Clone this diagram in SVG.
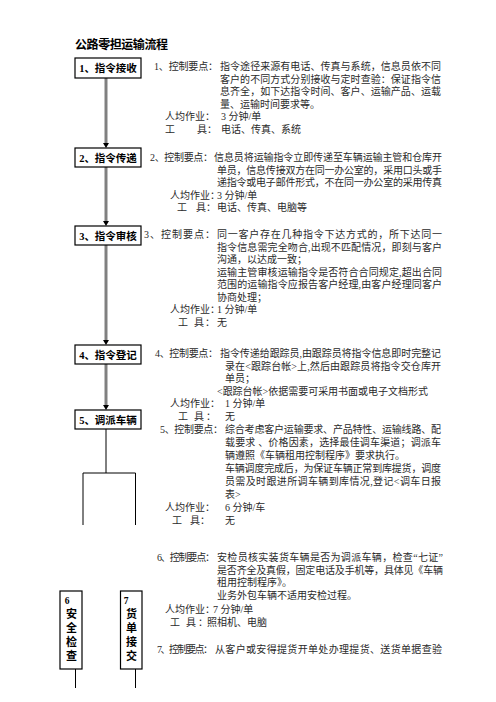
<svg xmlns="http://www.w3.org/2000/svg" width="496" height="702" viewBox="0 0 496 702">
<style>
.t{font-family:"Liberation Serif","Noto Sans CJK SC",serif;font-size:10px;fill:#2a2a2a}
.b{font-family:"Liberation Serif","Noto Sans CJK SC",serif;font-size:10.5px;font-weight:bold;fill:#000;text-anchor:middle}
.v{font-family:"Liberation Serif","Noto Sans CJK SC",serif;font-size:11px;font-weight:bold;fill:#000;text-anchor:middle}
.box{fill:#fff;stroke:#000;stroke-width:1.2}
.g{stroke:#808080;stroke-width:3;fill:none}
.k{stroke:#000;stroke-width:1;fill:none}
.ah{fill:#000}
</style>
<rect width="496" height="702" fill="#fff"/>
<text x="75" y="49" style="font-family:'Liberation Serif','Noto Sans CJK SC',serif;font-size:12px;font-weight:bold" textLength="93">公路零担运输流程</text>

<g id="connectors">
<line class="g" x1="106" y1="78" x2="106" y2="143"/>
<line class="g" x1="106" y1="167" x2="106" y2="221"/>
<line class="g" x1="106" y1="245" x2="106" y2="340"/>
<line class="g" x1="106" y1="364" x2="106" y2="405"/>
<path class="ah" d="M103,143 H109 L106,148 Z"/>
<path class="ah" d="M103,221 H109 L106,226 Z"/>
<path class="ah" d="M103,340 H109 L106,345 Z"/>
<path class="ah" d="M103,405 H109 L106,410 Z"/>
<line class="k" x1="106" y1="429" x2="106" y2="473"/>
<path class="k" d="M83,525 V473 H135.5 V525"/>
<line class="k" x1="75.5" y1="669" x2="75.5" y2="688"/>
<line class="k" x1="135.5" y1="669" x2="135.5" y2="688"/>
</g>

<g id="n1"><rect class="box" x="75" y="58" width="66" height="20"/><text class="b" x="108" y="71.5">1、指令接收</text></g>
<g id="n2"><rect class="box" x="75" y="148" width="66" height="19"/><text class="b" x="108" y="161.5">2、指令传递</text></g>
<g id="n3"><rect class="box" x="75" y="226" width="66" height="19"/><text class="b" x="108" y="239.5">3、指令审核</text></g>
<g id="n4"><rect class="box" x="75" y="345" width="66" height="19"/><text class="b" x="108" y="358.5">4、指令登记</text></g>
<g id="n5"><rect class="box" x="75" y="410" width="66" height="19"/><text class="b" x="108" y="423.5">5、调派车辆</text></g>
<g id="n6"><rect class="box" x="60" y="591" width="22" height="78"/>
<text class="v" x="67" y="604" style="font-size:9.5px">6</text>
<text class="v" x="71.5" y="618">安</text><text class="v" x="71.5" y="632">全</text><text class="v" x="71.5" y="646">检</text><text class="v" x="71.5" y="660">查</text></g>
<g id="n7"><rect class="box" x="120.5" y="591" width="21.5" height="78"/>
<text class="v" x="126" y="604" style="font-size:9.5px">7</text>
<text class="v" x="131.5" y="618">货</text><text class="v" x="131.5" y="632">单</text><text class="v" x="131.5" y="646">接</text><text class="v" x="131.5" y="660">交</text></g>

<g id="s1">
<text class="t" x="154" y="70" textLength="64">1、控制要点：</text>
<text class="t" x="220" y="70" textLength="221">指令途径来源有电话、传真与系统，信息员依不同</text>
<text class="t" x="220" y="82.5" textLength="221">客户的不同方式分别接收与定时查验：保证指令信</text>
<text class="t" x="220" y="95" textLength="221">息齐全，如下达指令时间、客户、运输产品、运载</text>
<text class="t" x="220" y="107.5">量、运输时间要求等。</text>
<text class="t" x="165" y="120">人均作业：</text><text class="t" x="221" y="120">3 分钟/单</text>
<text class="t" x="165" y="132.5">工</text><text class="t" x="197" y="132.5">具：</text><text class="t" x="221" y="132.5">电话、传真、系统</text>
</g>

<g id="s2">
<text class="t" x="150" y="161" textLength="63">2、控制要点：</text>
<text class="t" x="214" y="161" textLength="228">信息员将运输指令立即传递至车辆运输主管和仓库开</text>
<text class="t" x="217" y="173.5" textLength="225">单员，信息传接双方在同一办公室的，采用口头或手</text>
<text class="t" x="217" y="186" textLength="225">递指令或电子邮件形式，不在同一办公室的采用传真</text>
<text class="t" x="170" y="198.5">人均作业：</text><text class="t" x="217" y="198.5">3 分钟/单</text>
<text class="t" x="177" y="211">工</text><text class="t" x="196" y="211">具：</text><text class="t" x="217" y="211">电话、传真、电脑等</text>
</g>

<g id="s3">
<text class="t" x="144" y="238" textLength="71">3、控制要点：</text>
<text class="t" x="217" y="238" textLength="225">同一客户存在几种指令下达方式的，所下达同一</text>
<text class="t" x="217" y="250.5" textLength="225">指令信息需完全吻合,出现不匹配情况，即刻与客户</text>
<text class="t" x="217" y="263">沟通，以达成一致；</text>
<text class="t" x="217" y="275.5" textLength="225">运输主管审核运输指令是否符合合同规定,超出合同</text>
<text class="t" x="217" y="288" textLength="225">范围的运输指令应报告客户经理,由客户经理同客户</text>
<text class="t" x="217" y="300.5">协商处理；</text>
<text class="t" x="170" y="313">人均作业：</text><text class="t" x="217" y="313">1 分钟/单</text>
<text class="t" x="178" y="325.5">工</text><text class="t" x="194" y="325.5">具</text><text class="t" x="205" y="325.5">：</text><text class="t" x="217" y="325.5">无</text>
</g>

<g id="s4">
<text class="t" x="155" y="357" textLength="63">4、控制要点：</text>
<text class="t" x="220" y="357" textLength="221">指令传递给跟踪员,由跟踪员将指令信息即时完整记</text>
<text class="t" x="225" y="369.5" textLength="216">录在&lt;跟踪台帐&gt;上,然后由跟踪员将指令交仓库开</text>
<text class="t" x="225" y="382">单员；</text>
<text class="t" x="217" y="394.5" textLength="211">&lt;跟踪台帐&gt;依据需要可采用书面或电子文档形式</text>
<text class="t" x="170" y="407">人均作业：</text><text class="t" x="225" y="407">1 分钟/单</text>
<text class="t" x="178" y="419.5">工</text><text class="t" x="194" y="419.5">具</text><text class="t" x="206" y="419.5">：</text><text class="t" x="225" y="419.5">无</text>
</g>

<g id="s5">
<text class="t" x="160" y="433" textLength="63">5、控制要点：</text>
<text class="t" x="225" y="433" textLength="216">综合考虑客户运输要求、产品特性、运输线路、配</text>
<text class="t" x="225" y="446" textLength="216">载要求 、价格因素，选择最佳调车渠道；调派车</text>
<text class="t" x="225" y="459">辆遵照《车辆租用控制程序》要求执行。</text>
<text class="t" x="225" y="472" textLength="216">车辆调度完成后，为保证车辆正常到库提货，调度</text>
<text class="t" x="225" y="485" textLength="216">员需及时跟进所调车辆到库情况,登记&lt;调车日报</text>
<text class="t" x="225" y="498">表&gt;</text>
<text class="t" x="165" y="511">人均作业：</text><text class="t" x="225" y="511">6 分钟/车</text>
<text class="t" x="172" y="524">工</text><text class="t" x="190" y="524">具：</text><text class="t" x="225" y="524">无</text>
</g>

<g id="s6">
<text class="t" x="157" y="561" textLength="58">6、控制要点：</text>
<text class="t" x="217" y="561" textLength="226">安检员核实装货车辆是否为调派车辆，检查“七证”</text>
<text class="t" x="217" y="573.5" textLength="226">是否齐全及真假，固定电话及手机等，具体见《车辆</text>
<text class="t" x="217" y="586">租用控制程序》。</text>
<text class="t" x="217" y="598.5">业务外包车辆不适用安检过程。</text>
<text class="t" x="165" y="613">人均作业：</text><text class="t" x="213" y="613">7 分钟/单</text>
<text class="t" x="170" y="626">工</text><text class="t" x="186" y="626">具</text><text class="t" x="198" y="626">：</text><text class="t" x="207" y="626">照相机、电脑</text>
</g>

<g id="s7">
<text class="t" x="157" y="652.5" textLength="56">7、控制要点：</text>
<text class="t" x="215" y="652.5" textLength="227">从客户或安得提货开单处办理提货、送货单据查验</text>
</g>
</svg>
